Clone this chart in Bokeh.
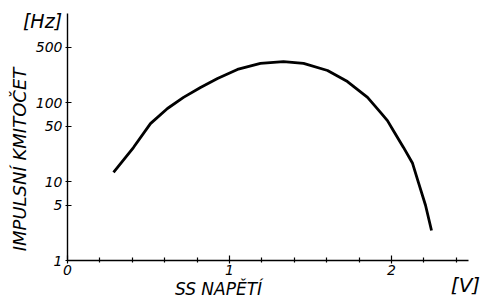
import math
from bokeh.plotting import figure
from bokeh.models import FixedTicker, Range1d, Label
from bokeh.embed import file_html
from bokeh.resources import INLINE

# data
voltage = [0.284, 0.407, 0.512, 0.617, 0.716, 0.821, 0.926, 1.049, 1.191, 1.333,
           1.457, 1.605, 1.728, 1.852, 1.932, 1.975, 2.012, 2.074, 2.130, 2.167,
           2.210, 2.247]
freq = [13.0, 26.9, 54, 84, 116, 155, 201, 262, 312, 330,
        312, 254, 184, 116, 75, 59, 44, 27, 17, 9.6,
        5.0, 2.4]
x_ticks = [0, 1, 2]
x_minor = [0.2, 0.4, 0.6, 0.8, 1.2, 1.4, 1.6, 1.8, 2.2, 2.4]
y_ticks = [1, 5, 10, 50, 100, 500]
y_labels = ["1", "5", "10", "50", "100", "500"]

FONT = "DejaVu Sans"
W, H = 485, 302


def dx(px):
    # pixel column -> volts
    return (px - 67) / 162.0


def dy(py):
    # pixel row -> Hz (log scale)
    return 10 ** ((260 - py) / 79.0)


p = figure(width=W, height=H, y_axis_type="log", output_backend="svg",
           toolbar_location=None, title=None,
           x_range=Range1d(dx(0), dx(W)), y_range=Range1d(dy(H), dy(0)),
           min_border_left=0, min_border_right=0, min_border_top=0, min_border_bottom=0)
p.outline_line_color = None
p.grid.visible = False
p.background_fill_color = "white"
p.border_fill_color = "white"

p.line(voltage, freq, line_color="black", line_width=2.8)

xa = p.xaxis[0]
xa.fixed_location = 1
xa.bounds = (0, dx(468))
xa.ticker = FixedTicker(ticks=x_ticks, minor_ticks=x_minor)
xa.axis_line_width = 1.4
xa.major_tick_in = 5
xa.major_tick_out = 3
xa.minor_tick_in = 3
xa.minor_tick_out = 2
xa.minor_tick_line_width = 1.2
xa.major_tick_line_width = 1.2
xa.major_label_standoff = 1
xa.major_label_text_font = FONT
xa.major_label_text_font_style = "italic"
xa.major_label_text_font_size = "14px"
xa.major_label_text_color = "black"

ya = p.yaxis[0]
ya.fixed_location = 0
ya.bounds = (1, dy(13))
ya.ticker = FixedTicker(ticks=y_ticks, minor_ticks=[])
ya.major_label_overrides = {t: l for t, l in zip(y_ticks, y_labels)}
ya.axis_line_width = 1.4
ya.major_tick_in = 4
ya.major_tick_out = 2
ya.major_tick_line_width = 1.2
ya.major_label_standoff = 3
ya.major_label_text_font = FONT
ya.major_label_text_font_style = "italic"
ya.major_label_text_font_size = "14px"
ya.major_label_text_color = "black"


def lab(txt, px, py, size, angle=0.0):
    p.add_layout(Label(x=dx(px), y=dy(py), text=txt, angle=angle,
                       text_font=FONT, text_font_style="italic",
                       text_font_size=size, text_color="black",
                       text_align="center", text_baseline="middle"))


lab("IMPULSNÍ KMITOČET", 19, 159, "18px", math.pi / 2)
lab("SS NAPĚTÍ", 218, 288, "17px")
lab("[V]", 465, 284, "20px")
lab("[Hz]", 42, 20, "19px")

open("out.html", "w").write(file_html(p, INLINE))
